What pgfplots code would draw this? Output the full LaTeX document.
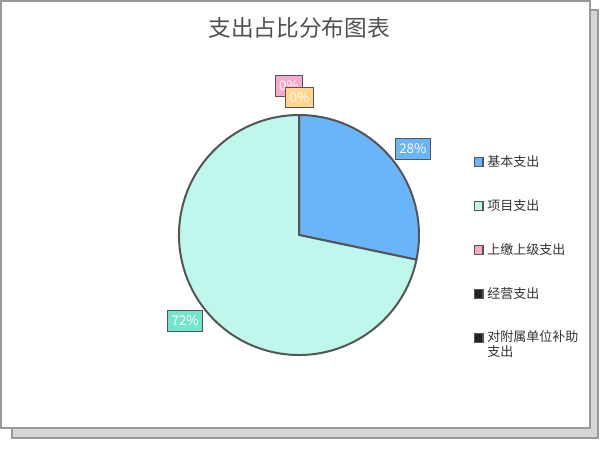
\documentclass[border=0pt]{standalone}
\usepackage{fontspec}
\setmainfont{Noto Sans CJK SC}
\usepackage{pgfplots}
\usepackage{pgfplotstable}
\pgfplotsset{compat=1.18}

\definecolor{cBlue}{HTML}{6AB4FA}
\definecolor{cMint}{HTML}{BEF8EC}
\definecolor{cMintLbl}{HTML}{72E6CB}
\definecolor{cPink}{HTML}{F8A9CB}
\definecolor{cOrange}{HTML}{FFD68A}
\definecolor{cDark}{HTML}{222222}
\definecolor{cEdge}{HTML}{555555}
\definecolor{cFrame}{HTML}{999999}
\definecolor{cShadow}{HTML}{D6D6D6}
\definecolor{cTitle}{HTML}{505050}
\definecolor{cText}{HTML}{333333}

% share of each expense type, in percent
\pgfplotstableread{
slice value
0 28.3
1 71.7
2 0
3 0
4 0
}\piedata

\newcommand\pct[1]{\pgfmathprintnumber[fixed,precision=0,assume math mode=true]{#1}\%}

\begin{document}
\begin{tikzpicture}[
    lbl/.style={draw=cEdge, line width=0.9pt, text=white, font=\fontsize{10}{11}\selectfont,
        inner xsep=3pt, inner ysep=0pt, minimum height=15.5pt},
    leg/.style={draw=cEdge, line width=1pt, minimum size=6.5pt, inner sep=0pt},
    legtxt/.style={anchor=west, text=cText, font=\fontsize{9.75}{11.5}\selectfont, align=left, inner sep=0pt},
]
\pgfplotstablegetelem{0}{value}\of\piedata \let\vA\pgfplotsretval
\pgfplotstablegetelem{1}{value}\of\piedata \let\vB\pgfplotsretval
\pgfplotstablegetelem{2}{value}\of\piedata \let\vC\pgfplotsretval
\pgfplotstablegetelem{3}{value}\of\piedata \let\vD\pgfplotsretval
% start at 12 o'clock, clockwise
\pgfmathsetmacro\aA{90}
\pgfmathsetmacro\aB{\aA-3.6*\vA}
\pgfmathsetmacro\aC{\aB-3.6*\vB}
\pgfmathsetmacro\mA{(\aA+\aB)/2-2}
\pgfmathsetmacro\mB{(\aB+\aC)/2-2}
\begin{axis}[
    x=0.75pt, y=0.75pt,
    xmin=0, xmax=600, ymin=0, ymax=449,
    y dir=reverse,
    hide axis,
    clip=false,
]
% frame with shadow
\path (axis cs:0,0) rectangle (axis cs:600,449);
\filldraw[fill=cShadow, draw=cFrame, line width=1.5pt] (axis cs:12,10) rectangle (axis cs:598,438);
\filldraw[fill=white, draw=cFrame, line width=1.5pt] (axis cs:1,1) rectangle (axis cs:590,428);

\node[text=cTitle, font=\fontsize{17}{19}\selectfont] at (axis cs:299,28) {支出占比分布图表};

% slices
\filldraw[fill=cBlue, draw=cEdge, line width=1.5pt, line join=round]
    (axis cs:299,235) -- ++(\aA:90pt) arc[start angle=\aA, end angle=\aB, radius=90pt] -- cycle;
\filldraw[fill=cMint, draw=cEdge, line width=1.5pt, line join=round]
    (axis cs:299,235) -- ++(\aB:90pt) arc[start angle=\aB, end angle=\aC, radius=90pt] -- cycle;

% value labels
\path (axis cs:299,235) ++(\mA:107pt) node[lbl, fill=cBlue] {\pct{\vA}};
\path (axis cs:299,235) ++(\mB:107pt) node[lbl, fill=cMintLbl] {\pct{\vB}};
\node[lbl, fill=cPink] at (axis cs:289,86) {\pct{\vC}};
\node[lbl, fill=cOrange] at (axis cs:299.5,97.5) {\pct{\vD}};

% legend
\node[leg, fill=cBlue] at (axis cs:478.5,162) {};
\node[legtxt] at (axis cs:487,162) {基本支出};
\node[leg, fill=cMint] at (axis cs:478.5,206) {};
\node[legtxt] at (axis cs:487,206) {项目支出};
\node[leg, fill=cPink] at (axis cs:478.5,250) {};
\node[legtxt] at (axis cs:487,250) {上缴上级支出};
\node[leg, fill=cDark] at (axis cs:478.5,294) {};
\node[legtxt] at (axis cs:487,294) {经营支出};
\node[leg, fill=cDark] at (axis cs:478.5,338) {};
\node[legtxt, anchor=north west] at (axis cs:487,330) {对附属单位补助\\支出};
\end{axis}
\end{tikzpicture}
\end{document}
